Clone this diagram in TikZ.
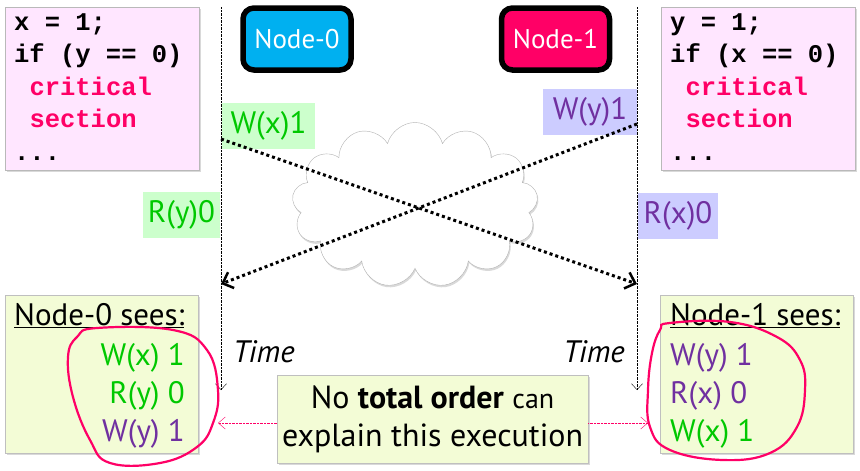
\documentclass[tikz,border=0pt]{standalone}
\usepackage{fontspec}
\setmainfont{PT Sans}
\setmonofont{Liberation Mono}
\usepackage{xcolor}
\usetikzlibrary{calc}
\usetikzlibrary{positioning}
\usetikzlibrary{arrows.meta}
\usetikzlibrary{shapes.symbols,shadows}

\definecolor{codebg}{HTML}{FFE6FF}
\definecolor{critred}{HTML}{FF0066}
\definecolor{nodeblue}{HTML}{00B0F0}
\definecolor{wgreen}{HTML}{00C800}
\definecolor{wgreenbg}{HTML}{CCFFCC}
\definecolor{wpurple}{HTML}{7030A0}
\definecolor{wpurplebg}{HTML}{CCCCFF}
\definecolor{seenbg}{HTML}{F3FCD6}

\begin{document}
\begin{tikzpicture}[x=1pt,y=-1pt,
  codebox/.style={draw=gray!55, fill=codebg, minimum width=194pt, minimum height=163pt,
    drop shadow={opacity=0.3, shadow xshift=1.5pt, shadow yshift=-1.5pt}},
  codetext/.style={font=\ttfamily\bfseries\fontsize{25.5}{32.5}\selectfont, align=left,
    inner sep=0pt, anchor=base west},
  proc/.style={draw=black, line width=5.5pt, rounded corners=11pt, minimum width=108pt,
    minimum height=62pt, text=white, font=\fontsize{27}{30}\selectfont,
    drop shadow={opacity=0.35, shadow xshift=1.5pt, shadow yshift=-2pt}},
  opbox/.style={inner sep=0pt, minimum height=46pt, font=\fontsize{31}{31}\selectfont},
  seenbox/.style={draw=gray!50, fill=seenbg, minimum width=193pt, minimum height=158pt,
    drop shadow={opacity=0.3, shadow xshift=1.5pt, shadow yshift=-1.5pt}},
  seentext/.style={font=\fontsize{31}{38}\selectfont, inner sep=0pt},
  timetext/.style={font=\itshape\fontsize{31}{31}\selectfont, inner sep=0pt},
  timeline/.style={densely dotted, thin, -{Straight Barb[length=6pt,width=11pt]}},
  msg/.style={line width=3pt, dash pattern=on 3pt off 3pt,
    -{Straight Barb[length=9pt,width=17pt,line width=2.5pt]}},
  ring/.style={critred, line width=2.2pt},
  hint/.style={critred, densely dotted, thin, -{Straight Barb[length=7pt,width=12pt]}},
]
\useasboundingbox (0,0) rectangle (860,471);

% code of the two nodes
\node (code0) [codebox] at (102,88.5) {};
\node (src0) [codetext] at (14,160) {x = 1;\\if (y == 0)\\
  \textcolor{critred}{\hphantom{x}critical}\\\textcolor{critred}{\hphantom{x}section}\\...};
\node (code1) [codebox] at (758,88.5) {};
\node (src1) [codetext] at (670,160) {y = 1;\\if (x == 0)\\
  \textcolor{critred}{\hphantom{x}critical}\\\textcolor{critred}{\hphantom{x}section}\\...};

\node (proc0) [proc, fill=nodeblue] at (297,39) {Node-0};
\node (proc1) [proc, fill=critred] at (555.5,39) {Node-1};

% time lines
\coordinate (t0top) at (221,7);
\coordinate (t0bot) at (221,390);
\coordinate (t1top) at (637,7);
\coordinate (t1bot) at (637,390);
\draw[timeline] (t0top) -- (t0bot);
\draw[timeline] (t1top) -- (t1bot);

\node (net) [cloud, cloud puffs=13, aspect=1.5, draw=gray!60, fill=white,
  minimum width=246pt, minimum height=165pt,
  drop shadow={opacity=0.3, shadow xshift=1pt, shadow yshift=-2pt}] at (415,205) {};

\node (wx0) [opbox, fill=wgreenbg, text=wgreen, minimum width=93pt] at (268.5,126) {W(x)1};
\node (ry0) [opbox, fill=wgreenbg, text=wgreen, minimum width=77pt] at (181.5,214.5) {R(y)0};
\node (wy1) [opbox, fill=wpurplebg, text=wpurple, minimum width=94pt] at (590,112) {W(y)1};
\node (rx1) [opbox, fill=wpurplebg, text=wpurple, minimum width=80pt] at (678,216) {R(x)0};

% messages
\coordinate (send0) at (221,139);
\coordinate (recv1) at (637,284);
\coordinate (send1) at (637,124);
\coordinate (recv0) at (221,284);
\draw[msg] (send0) -- (recv1);
\draw[msg] (send1) -- (recv0);

\node (time0) [timetext, anchor=base west] at (233,362) {Time};
\node (time1) [timetext, anchor=base east] at (625,362) {Time};

% what each node sees
\node (seen0) [seenbox] at (101.5,374) {};
\node (head0) [seentext, anchor=base west] at (14,325) {\underline{Node-0 sees:}};
\node (list0) [seentext, align=right, anchor=base east] at (185,441)
  {\textcolor{wgreen}{W(x) 1}\\\textcolor{wgreen}{R(y) 0}\\\textcolor{wpurple}{W(y) 1}};
\node (seen1) [seenbox] at (757,374) {};
\node (head1) [seentext, anchor=base west] at (670,325) {\underline{Node-1 sees:}};
\node (list1) [seentext, align=left, anchor=base west] at (670,441)
  {\textcolor{wpurple}{W(y) 1}\\\textcolor{wpurple}{R(x) 0}\\\textcolor{wgreen}{W(x) 1}};

\draw[ring] plot[smooth cycle, tension=0.7] coordinates {(97,328) (173,330) (207,350)
  (218,390) (213,423) (197,447) (160,463) (110,463) (90,440) (73,397) (68,357) (77,337)};
\draw[ring] plot[smooth cycle, tension=0.7] coordinates {(670,323) (730,322) (777,337)
  (800,360) (805,390) (797,427) (770,453) (723,460) (670,450) (650,427) (648,390) (652,353) (660,330)};

\node (note) [draw=gray!50, fill=seenbg, minimum width=311pt, minimum height=88pt,
  align=center, font=\fontsize{32}{38}\selectfont,
  drop shadow={opacity=0.3, shadow xshift=1.5pt, shadow yshift=-1.5pt}] at (432.5,419)
  {No \textbf{total order} {\fontsize{28}{38}\selectfont can}\\explain this execution};

\coordinate (hit0) at (218,423);
\coordinate (hit1) at (648,423);
\draw[hint] (note.west |- hit0) -- (hit0);
\draw[hint] (note.east |- hit1) -- (hit1);
\end{tikzpicture}
\end{document}
